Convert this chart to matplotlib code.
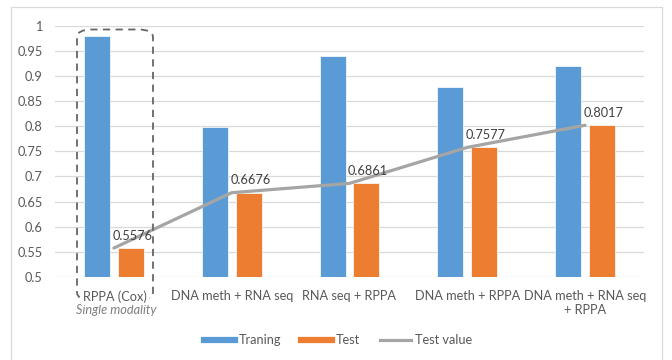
import matplotlib
matplotlib.use("Agg")
import matplotlib.pyplot as plt
import numpy as np
from matplotlib.patches import FancyBboxPatch, Rectangle
from matplotlib.lines import Line2D

plt.rcParams['font.family'] = ['Lato', 'DejaVu Sans']

categories = ["RPPA (Cox)", "DNA meth + RNA seq", "RNA seq + RPPA", "DNA meth + RPPA", "DNA meth + RNA seq\n+ RPPA"]
training = [0.98, 0.798, 0.939, 0.878, 0.92]
test = [0.5576, 0.6676, 0.6861, 0.7577, 0.8017]
test_labels = ["0.5576", "0.6676", "0.6861", "0.7577", "0.8017"]
yticks = [0.5, 0.55, 0.6, 0.65, 0.7, 0.75, 0.8, 0.85, 0.9, 0.95, 1.0]
ytick_labels = ["0.5", "0.55", "0.6", "0.65", "0.7", "0.75", "0.8", "0.85", "0.9", "0.95", "1"]

W, H = 672, 360
FS = 9.2
fig = plt.figure(figsize=(W/100, H/100), dpi=100)
ax = fig.add_axes([55/W, 1-277/H, (644-55)/W, (277-25.5)/H])

txtc = '#595959'
blue = '#5B9BD5'
orange = '#ED7D31'
gray = '#A5A5A5'

x = np.arange(len(categories))
bw = 0.22
off = 0.143
ax.bar(x - off, [t - 0.5 for t in training], bw, bottom=0.5, color=blue, edgecolor='white', linewidth=0.5, zorder=2)
ax.bar(x + off, [t - 0.5 for t in test], bw, bottom=0.5, color=orange, edgecolor='white', linewidth=0.5, zorder=2)
ax.plot(x, test, color=gray, lw=2.3, zorder=3, solid_capstyle='round')
for xi, v, lab in zip(x, test, test_labels):
    ax.annotate(lab, (xi, v), xytext=(-1, 4.5), textcoords='offset points', ha='left', va='bottom',
                fontsize=FS, color='#404040', zorder=4)

ax.set_xlim(-0.5, len(categories) - 0.5)
ax.set_ylim(0.5, 1.0)
ax.set_yticks(yticks)
ax.set_yticklabels(ytick_labels)
ax.set_xticks(x)
ax.set_xticklabels(categories, linespacing=1.3)
ax.tick_params(axis='both', length=0, labelsize=FS, labelcolor=txtc)
ax.tick_params(axis='y', pad=9)
ax.tick_params(axis='x', pad=9)
ax.grid(axis='y', color='#D9D9D9', lw=0.9, zorder=0)
ax.set_axisbelow(True)
for s in ax.spines.values():
    s.set_visible(False)

# dashed rounded box around single modality
x0, x1 = 77/W, 153/W
y0, y1 = 1-300/H, 1-29.5/H
box = FancyBboxPatch((x0, y0), x1-x0, y1-y0, boxstyle="round,pad=0,rounding_size=0.022",
                     transform=fig.transFigure, fill=False, edgecolor='#666666', lw=1.3,
                     linestyle=(0, (4, 3)), zorder=1)
fig.patches.append(box)
fig.text(116/W, 1-310/H, "Single modality", ha='center', va='center', fontsize=FS,
         style='italic', color='#7F7F7F', bbox=dict(facecolor='white', edgecolor='none', pad=0.3))
fig.text(115/W, 1-297/H, "RPPA (Cox)", ha='center', va='center', fontsize=FS, color=txtc,
         bbox=dict(facecolor='white', edgecolor='none', pad=1.2))
ax.get_xticklabels()[0].set_visible(False)

# chart border
fig.patches.append(Rectangle((11/W, -0.02), (662-11)/W, 1-7/H+0.02, transform=fig.transFigure,
                             fill=False, edgecolor='#D9D9D9', lw=0.9))

handles = [Line2D([], [], color=blue, lw=4.5), Line2D([], [], color=orange, lw=4.5),
           Line2D([], [], color=gray, lw=2.3)]
fig.legend(handles, ["Traning", "Test", "Test value"], loc='center', bbox_to_anchor=(338/W, 1-340/H),
           ncol=3, frameon=False, fontsize=FS, handlelength=2.4, handletextpad=0.3,
           columnspacing=1.6, labelcolor=txtc)

fig.savefig("out.png", dpi=100)
